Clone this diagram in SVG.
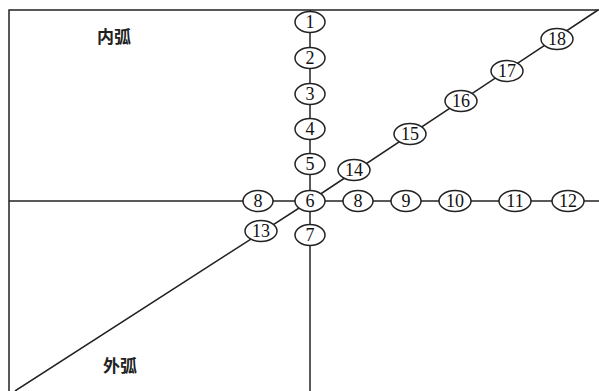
<svg xmlns="http://www.w3.org/2000/svg" width="599" height="391" viewBox="0 0 599 391">
<style>
.ln{stroke:#222;stroke-width:1.5;fill:none}
.nd ellipse{fill:#fff;stroke:#222;stroke-width:1.5}
.nd text{font-family:"Liberation Serif","Times New Roman",serif;font-size:18px;fill:#111;text-anchor:middle;dominant-baseline:central}
.lb{font-family:"Noto Sans CJK SC","Noto Sans",sans-serif;font-size:17px;font-weight:bold;fill:#222}
</style>
<rect width="599" height="391" fill="#fff"/>
<g id="connectors">
<path class="ln" d="M9,391 V10 H599"/>
<path class="ln" d="M310,10 V391"/>
<path class="ln" d="M9,201 H599"/>
<path class="ln" d="M15,391 L310,201 L598,10"/>
</g>
<g id="n1" class="nd"><ellipse cx="310" cy="22" rx="15" ry="10.5"/><text x="310" y="22">1</text></g>
<g id="n2" class="nd"><ellipse cx="310" cy="58" rx="15" ry="10.5"/><text x="310" y="58">2</text></g>
<g id="n3" class="nd"><ellipse cx="310" cy="94" rx="15" ry="10.5"/><text x="310" y="94">3</text></g>
<g id="n4" class="nd"><ellipse cx="310" cy="129" rx="15" ry="10.5"/><text x="310" y="129">4</text></g>
<g id="n5" class="nd"><ellipse cx="310" cy="164" rx="15" ry="10.5"/><text x="310" y="164">5</text></g>
<g id="n6" class="nd"><ellipse cx="310" cy="201" rx="15" ry="10.5"/><text x="310" y="201">6</text></g>
<g id="n7" class="nd"><ellipse cx="310" cy="235" rx="15" ry="10.5"/><text x="310" y="235">7</text></g>
<g id="n8a" class="nd"><ellipse cx="258" cy="201" rx="15" ry="10.5"/><text x="258" y="201">8</text></g>
<g id="n8b" class="nd"><ellipse cx="358" cy="201" rx="15" ry="10.5"/><text x="358" y="201">8</text></g>
<g id="n9" class="nd"><ellipse cx="406" cy="201" rx="15" ry="10.5"/><text x="406" y="201">9</text></g>
<g id="n10" class="nd"><ellipse cx="455" cy="201" rx="16" ry="10.5"/><text x="455" y="201">10</text></g>
<g id="n11" class="nd"><ellipse cx="515" cy="201" rx="16" ry="10.5"/><text x="515" y="201">11</text></g>
<g id="n12" class="nd"><ellipse cx="568" cy="201" rx="16" ry="10.5"/><text x="568" y="201">12</text></g>
<g id="n13" class="nd"><ellipse cx="261" cy="231" rx="16" ry="10.5"/><text x="261" y="231">13</text></g>
<g id="n14" class="nd"><ellipse cx="354" cy="170" rx="16" ry="10.5"/><text x="354" y="170">14</text></g>
<g id="n15" class="nd"><ellipse cx="410" cy="134" rx="16" ry="10.5"/><text x="410" y="134">15</text></g>
<g id="n16" class="nd"><ellipse cx="461" cy="101" rx="16" ry="10.5"/><text x="461" y="101">16</text></g>
<g id="n17" class="nd"><ellipse cx="507" cy="71" rx="16" ry="10.5"/><text x="507" y="71">17</text></g>
<g id="n18" class="nd"><ellipse cx="557" cy="39" rx="16" ry="10.5"/><text x="557" y="39">18</text></g>
<text class="lb" x="97" y="43">内弧</text>
<text class="lb" x="103" y="372">外弧</text>
</svg>
